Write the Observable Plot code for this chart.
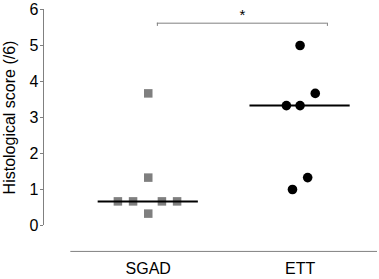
<!DOCTYPE html>
<html>
<head>
<meta charset="utf-8">
<script src="https://cdn.jsdelivr.net/npm/d3@7"></script>
<script src="https://cdn.jsdelivr.net/npm/@observablehq/plot@0.6"></script>
<style>
  html, body { margin: 0; padding: 0; background: #fff; }
  #chart svg { display: block; }
</style>
</head>
<body>
<div id="chart"></div>
<script>
// Data
const groups = ["SGAD", "ETT"];
const sgadScores  = [0.67, 0.67, 0.33, 0.67, 0.67, 1.33, 3.67];
const sgadOffsets = [-0.2, -0.1, 0, 0.09, 0.19, 0, 0];
const ettScores   = [5, 3.67, 3.33, 3.33, 1.33, 1.0];
const ettOffsets  = [0, 0.1, -0.09, 0, 0.05, -0.05];
const medians = [0.67, 3.33];
const yTicks = [0, 1, 2, 3, 4, 5, 6];
// significance annotation
const sigBracket = {x1: 0.06, x2: 1.18, y: 5.62, label: "*"};
// axis layout values (in data units)
const xDomain = [-0.69, 1.51];
const xAxisLineY = -0.72;
const xAxisLineStart = -0.51;

const sgad = sgadScores.map((v, i) => ({x: 0 + sgadOffsets[i], y: v}));
const ett = ettScores.map((v, i) => ({x: 1 + ettOffsets[i], y: v}));
const med = medians.map((m, i) => ({x1: i - 0.33, x2: i + 0.33, y: m}));
const bracketEnds = [sigBracket.x1, sigBracket.x2].map(x => ({x, y1: sigBracket.y, y2: sigBracket.y - 0.09}));

const chart = Plot.plot({
  width: 379,
  height: 279,
  marginLeft: 43,
  marginRight: 2,
  marginTop: 9,
  marginBottom: 54,
  style: {fontFamily: "'Liberation Sans', Arial, sans-serif", fontSize: "15px", color: "#000", background: "#fff"},
  x: {type: "linear", domain: xDomain},
  y: {type: "linear", domain: [0, 6]},
  marks: [
    // y axis line
    Plot.ruleX([{x: xDomain[0], y1: 0, y2: 6}], {x: "x", y1: "y1", y2: "y2", stroke: "#808080", strokeWidth: 1}),
    Plot.axisY({ticks: yTicks, tickFormat: "d", tickSize: 3, tickPadding: 2, stroke: "#808080", fill: "#000",
      label: "Histological score (/6)", labelAnchor: "center", labelArrow: "none", labelOffset: 40, fontSize: 16}),
    // x axis line (offset, below 0)
    Plot.ruleY([{y: xAxisLineY, x1: xAxisLineStart, x2: xDomain[1]}], {y: "y", x1: "x1", x2: "x2", stroke: "#808080", strokeWidth: 1}),
    Plot.axisX({ticks: [0, 1], tickFormat: i => groups[i], tickSize: 0, tickPadding: 37, label: null, fontSize: 16}),
    // points
    Plot.dot(sgad, {x: "x", y: "y", symbol: "square", r: 4.8, fill: "#7f7f7f", stroke: "none"}),
    Plot.dot(ett, {x: "x", y: "y", symbol: "circle", r: 4.8, fill: "#000", stroke: "none"}),
    // medians
    Plot.ruleY(med, {x1: "x1", x2: "x2", y: "y", stroke: "#000", strokeWidth: 2}),
    // significance bracket
    Plot.ruleY([sigBracket], {x1: "x1", x2: "x2", y: "y", stroke: "#808080", strokeWidth: 1}),
    Plot.ruleX(bracketEnds, {x: "x", y1: "y1", y2: "y2", stroke: "#808080", strokeWidth: 1}),
    Plot.text([sigBracket], {x: d => (d.x1 + d.x2) / 2, y: "y", text: "label", dy: -8, fontSize: 15, fill: "#000"})
  ]
});
document.getElementById("chart").append(chart);
</script>
</body>
</html>
